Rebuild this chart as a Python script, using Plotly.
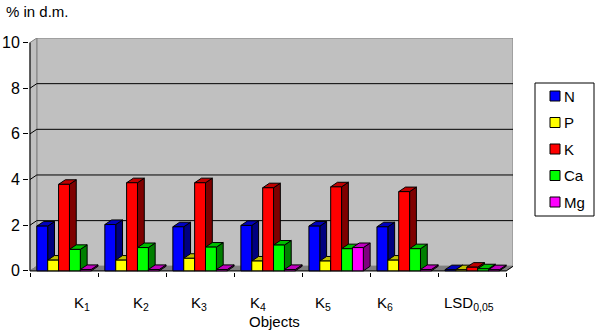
import plotly.graph_objects as go

# ---- data -------------------------------------------------------------
categories = ["K<sub>1</sub>", "K<sub>2</sub>", "K<sub>3</sub>", "K<sub>4</sub>",
              "K<sub>5</sub>", "K<sub>6</sub>", "LSD<sub>0,05</sub>"]
series_names = ["N", "P", "K", "Ca", "Mg"]
N = [1.96, 2.03, 1.93, 1.99, 1.96, 1.93, 0.05]
P = [0.47, 0.47, 0.55, 0.43, 0.43, 0.47, 0.05]
K = [3.79, 3.86, 3.86, 3.64, 3.68, 3.47, 0.16]
Ca = [0.94, 1.02, 1.04, 1.13, 0.97, 0.97, 0.09]
Mg = [0.06, 0.06, 0.06, 0.06, 1.02, 0.06, 0.05]
y_ticks = [0, 2, 4, 6, 8, 10]
y_title = "% in d.m."
x_title = "Objects"

series_values = [N, P, K, Ca, Mg]
series_colors = ["#0000FF", "#FFFF00", "#FF0000", "#00FF00", "#FF00FF"]

# ---- geometry / style --------------------------------------------------
W, H = 600, 335
L, R, T, B = 29, 87, 38, 63
PW, PH = W - L - R, H - T - B
DX, DY = 0.1, 0.2            # depth offset of the 3-D box (x units, y units)
BW = 0.16                    # width of one column
n_cat = len(categories)
X0 = -0.5 - 1 / 68
X1 = n_cat - 0.5 + DX
Y0, Y1 = -0.05, 10 + DY
FONT = "Liberation Sans, Arial, sans-serif"
WALL = "#C0C0C0"
FLOOR = "#808080"


def shade(hex_color, k):
    r, g, b = (int(hex_color[i:i + 2], 16) for i in (1, 3, 5))
    return "#%02X%02X%02X" % (int(r * k), int(g * k), int(b * k))


def px_x(px):
    return (px - L) / PW


def px_y(py):
    return (H - B - py) / PH


def poly_trace(xs, ys, fill, line="black", width=1):
    return go.Scatter(x=xs, y=ys, mode="lines", fill="toself", fillcolor=fill,
                      line=dict(color=line, width=width), hoverinfo="skip",
                      showlegend=False)


fig = go.Figure()

# back wall, side wall and floor
xl = -0.5
xr = n_cat - 0.5
fig.add_trace(poly_trace([xl + DX, X1, X1, xl + DX, xl + DX],
                         [DY, DY, 10 + DY, 10 + DY, DY], WALL, "#808080"))
fig.add_trace(poly_trace([xl, xl + DX, xl + DX, xl, xl],
                         [0, DY, 10 + DY, 10, 0], WALL, "#808080"))
fig.add_trace(poly_trace([xl, xr, xr + DX, xl + DX, xl],
                         [0, 0, DY, DY, 0], FLOOR, "#808080"))

# gridlines on the back wall, running across the side wall
gx, gy = [], []
for v in y_ticks[1:-1]:
    gx += [xl, xl + DX, X1, None]
    gy += [v, v + DY, v + DY, None]
fig.add_trace(go.Scatter(x=gx, y=gy, mode="lines", line=dict(color="black", width=1),
                         hoverinfo="skip", showlegend=False))

# front edges of the box
fig.add_trace(go.Scatter(x=[xl, xl, None, xl, xr, xr + DX],
                         y=[10, 0, None, 0, 0, DY], mode="lines",
                         line=dict(color="black", width=1),
                         hoverinfo="skip", showlegend=False))

# 3-D columns: side, top and front faces for each series
for j, (name, vals, col) in enumerate(zip(series_names, series_values, series_colors)):
    sx, sy, tx, ty, fx, fy = [], [], [], [], [], []
    for i, v in enumerate(vals):
        x0 = i - 2.5 * BW + j * BW
        x1 = x0 + BW
        sx += [x1, x1 + DX, x1 + DX, x1, x1, None]
        sy += [0, DY, v + DY, v, 0, None]
        tx += [x0, x1, x1 + DX, x0 + DX, x0, None]
        ty += [v, v, v + DY, v + DY, v, None]
        fx += [x0, x1, x1, x0, x0, None]
        fy += [0, 0, v, v, 0, None]
    fig.add_trace(poly_trace(sx, sy, shade(col, 0.5)))
    fig.add_trace(poly_trace(tx, ty, shade(col, 0.75)))
    fig.add_trace(poly_trace(fx, fy, col))

# category labels under the floor
label_left_px = [72, 131, 189, 248, 313, 375, 442]
annotations = []
for lab, lx in zip(categories, label_left_px):
    annotations.append(dict(text=lab, x=px_x(lx), y=px_y(303), xref="paper", yref="paper",
                            xanchor="left", yanchor="middle", showarrow=False,
                            font=dict(family=FONT, size=15, color="black")))
annotations.append(dict(text=x_title, x=px_x(274), y=px_y(321), xref="paper", yref="paper",
                        xanchor="center", yanchor="middle", showarrow=False,
                        font=dict(family=FONT, size=15, color="black")))
annotations.append(dict(text=y_title, x=px_x(4), y=px_y(12), xref="paper", yref="paper",
                        xanchor="left", yanchor="middle", showarrow=False,
                        font=dict(family=FONT, size=15, color="black")))

# legend box drawn with shapes and text
shapes = [dict(type="rect", xref="paper", yref="paper",
               x0=px_x(535), x1=px_x(594), y0=px_y(216), y1=px_y(83),
               line=dict(color="black", width=1), fillcolor="white")]
for k, (name, col) in enumerate(zip(series_names, series_colors)):
    cy = 96 + k * 26.5
    shapes.append(dict(type="rect", xref="paper", yref="paper",
                       x0=px_x(550), x1=px_x(560), y0=px_y(cy + 5), y1=px_y(cy - 5),
                       line=dict(color="black", width=1), fillcolor=col))
    annotations.append(dict(text=name, x=px_x(562), y=px_y(cy), xref="paper", yref="paper",
                            xanchor="left", yanchor="middle", showarrow=False,
                            font=dict(family=FONT, size=15, color="black")))

fig.update_layout(
    template="none",
    width=W, height=H,
    margin=dict(l=L, r=R, t=T, b=B, pad=0, autoexpand=False),
    paper_bgcolor="white", plot_bgcolor="white",
    showlegend=False,
    xaxis=dict(range=[X0, X1], showgrid=False, zeroline=False, showline=False,
               automargin=False,
               tickmode="array", tickvals=[i - 0.5 for i in range(n_cat + 1)],
               ticks="outside", ticklen=4, tickcolor="black", showticklabels=False,
               fixedrange=True),
    yaxis=dict(range=[Y0, Y1], showgrid=False, zeroline=False, showline=False,
               automargin=False,
               tickmode="array", tickvals=y_ticks, ticktext=[str(v) for v in y_ticks],
               ticks="outside", ticklen=5, tickcolor="black",
               tickfont=dict(family=FONT, size=16, color="black"), fixedrange=True),
    annotations=annotations,
    shapes=shapes,
)

fig.write_html("out.html")
